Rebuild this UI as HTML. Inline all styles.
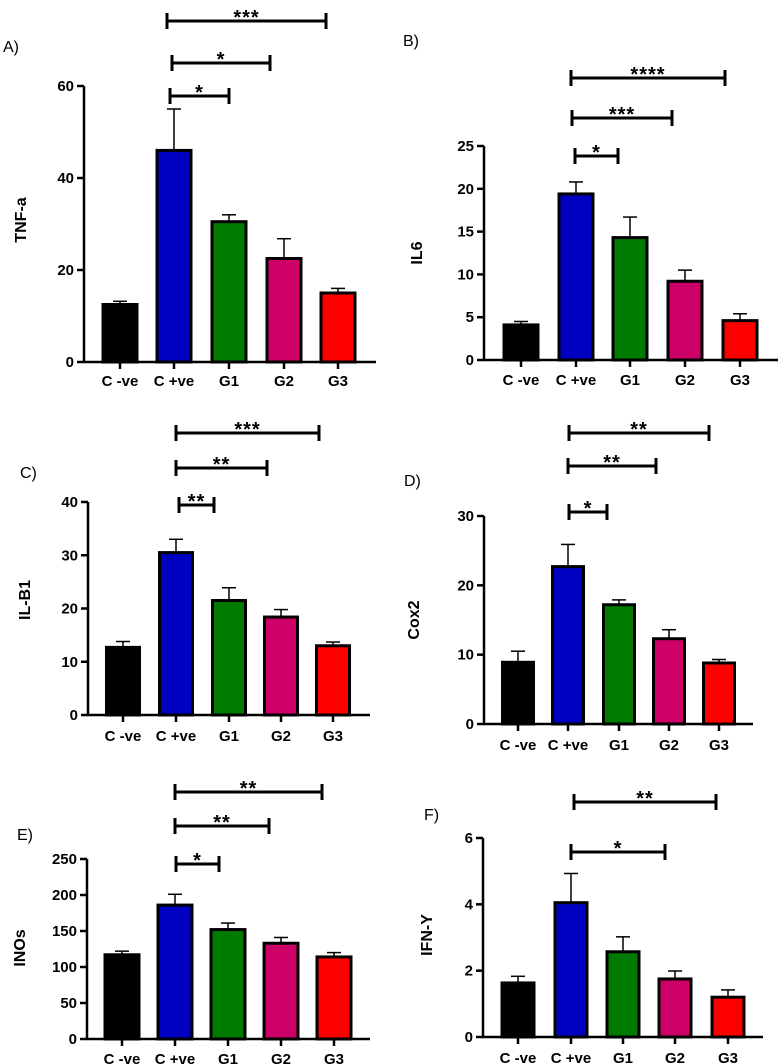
<!DOCTYPE html>
<html><head><meta charset="utf-8"><style>
body{margin:0;background:#fff;}
svg{display:block;font-family:"Liberation Sans",Arial,sans-serif;}
</style></head><body>
<svg id="fig" width="780" height="1064" viewBox="0 0 780 1064" xmlns="http://www.w3.org/2000/svg"></svg>
<script>
const categories = ["C -ve","C +ve","G1","G2","G3"];
const colors = ["#000000","#0000c0","#007a00","#cc0066","#ff0000"];
const tnfValues = [12.5,46,30.5,22.5,15];
const tnfErrors = [0.7,9,1.5,4.3,1];
const il6Values = [4.1,19.4,14.3,9.2,4.6];
const il6Errors = [0.4,1.4,2.4,1.3,0.8];
const ilb1Values = [12.7,30.5,21.5,18.4,13];
const ilb1Errors = [1.1,2.5,2.4,1.4,0.7];
const cox2Values = [8.9,22.7,17.2,12.3,8.8];
const cox2Errors = [1.6,3.2,0.7,1.3,0.5];
const inosValues = [117,186,152,133,114];
const inosErrors = [5,15,9,8,6];
const ifnValues = [1.63,4.05,2.57,1.75,1.2];
const ifnErrors = [0.2,0.88,0.45,0.24,0.22];
const tnfTicks = [0,20,40,60];
const il6Ticks = [0,5,10,15,20,25];
const ilb1Ticks = [0,10,20,30,40];
const cox2Ticks = [0,10,20,30];
const inosTicks = [0,50,100,150,200,250];
const ifnTicks = [0,2,4,6];
const tnfSig = [[1,2,"*"],[1,3,"*"],[1,4,"***"]];
const il6Sig = [[1,2,"*"],[1,3,"***"],[1,4,"****"]];
const ilb1Sig = [[1,2,"**"],[1,3,"**"],[1,4,"***"]];
const cox2Sig = [[1,2,"*"],[1,3,"**"],[1,4,"**"]];
const inosSig = [[1,2,"*"],[1,3,"**"],[1,4,"**"]];
const ifnSig = [[1,3,"*"],[1,4,"**"]];

const NS="http://www.w3.org/2000/svg";
const svg=document.getElementById('fig');
function mk(tag,attrs,parent,text){const e=document.createElementNS(NS,tag);for(const k in attrs)e.setAttribute(k,attrs[k]);if(text!==undefined)e.textContent=text;(parent||svg).appendChild(e);return e;}

const panels=[
 {id:"a",letter:"A)",lx:3,ly:52,title:"TNF-a",tx:22,ty:220,ax:84,ar:376,y0:362,yTop:86,max:60,ticks:tnfTicks,vals:tnfValues,errs:tnfErrors,cx:[120,174,229,284,338],bw:34,sig:tnfSig,sigY:[96,63,21],sigX:[[170,229],[172,270],[167,326]],lab:380},
 {id:"b",letter:"B)",lx:403,ly:46,title:"IL6",tx:418,ty:253,ax:484,ar:778,y0:360,yTop:146,max:25,ticks:il6Ticks,vals:il6Values,errs:il6Errors,cx:[521,576,630,685,740],bw:34,sig:il6Sig,sigY:[156,118,78],sigX:[[575,618],[572,672],[571,725]],lab:379},
 {id:"c",letter:"C)",lx:20,ly:478,title:"IL-B1",tx:26,ty:600,ax:88,ar:370,y0:715,yTop:502,max:40,ticks:ilb1Ticks,vals:ilb1Values,errs:ilb1Errors,cx:[123,176,229,281,333],bw:33,sig:ilb1Sig,sigY:[505,468,433],sigX:[[179,214],[176,267],[176,319]],lab:735},
 {id:"d",letter:"D)",lx:404,ly:486,title:"Cox2",tx:415,ty:620,ax:484,ar:753,y0:724,yTop:516,max:30,ticks:cox2Ticks,vals:cox2Values,errs:cox2Errors,cx:[518,568,619,669,719],bw:31,sig:cox2Sig,sigY:[512,466,433],sigX:[[569,607],[568,656],[569,709]],lab:744},
 {id:"e",letter:"E)",lx:17,ly:840,title:"INOs",tx:21,ty:948,ax:87,ar:370,y0:1039,yTop:859,max:250,ticks:inosTicks,vals:inosValues,errs:inosErrors,cx:[122,175,228,281,334],bw:34,sig:inosSig,sigY:[864,826,792],sigX:[[176,219],[175,269],[175,322]],lab:1058},
 {id:"f",letter:"F)",lx:424,ly:820,title:"IFN-Y",tx:428,ty:935,ax:483,ar:763,y0:1037,yTop:838,max:6,ticks:ifnTicks,vals:ifnValues,errs:ifnErrors,cx:[518,571,623,675,728],bw:32,sig:ifnSig,sigY:[852,802],sigX:[[571,665],[574,716]],lab:1057}
];

panels.forEach(p=>{
 const g=mk('g',{});
 
 
 const y=v=>p.y0-(v/p.max)*(p.y0-p.yTop);
 const pl=mk('text',{x:p.lx,y:p.ly,'font-size':16},g,p.letter);
 
 
 const yt=mk('text',{x:p.tx,y:p.ty,'font-size':16,'font-weight':'bold','text-anchor':'middle',transform:`rotate(-90 ${p.tx} ${p.ty})`,'dominant-baseline':'middle'},g,p.title);
 
 
 // bars
 p.vals.forEach((v,i)=>{
  const c=p.cx[i];
  const top=y(v), et=y(v+p.errs[i]);
  const el=mk('line',{x1:c,x2:c,y1:top,y2:et,stroke:'#000','stroke-width':1.5},g);
  
  
  const cap=mk('line',{x1:c-7,x2:c+7,y1:et,y2:et,stroke:'#000','stroke-width':1.5},g);
  
  
  const r=mk('rect',{x:c-p.bw/2,y:top,width:p.bw,height:p.y0-top,fill:colors[i],stroke:'#000','stroke-width':3},g);
  
  
  const tk=mk('line',{x1:c,x2:c,y1:p.y0,y2:p.y0+7,stroke:'#000','stroke-width':2.5},g);
  
  
  const xl=mk('text',{x:c,y:p.lab+6,'font-size':15,'font-weight':'bold','text-anchor':'middle'},g,categories[i]);
  
  
 });
 // axes
 const ya=mk('line',{x1:p.ax,x2:p.ax,y1:p.yTop,y2:p.y0+1,stroke:'#000','stroke-width':2.5},g);
 
 
 const xa=mk('line',{x1:p.ax-1,x2:p.ar,y1:p.y0,y2:p.y0,stroke:'#000','stroke-width':2.5},g);
 
 
 p.ticks.forEach(t=>{
  const ty=y(t);
  const tl=mk('line',{x1:p.ax-7,x2:p.ax,y1:ty,y2:ty,stroke:'#000','stroke-width':2.5},g);
  
  
  const tt=mk('text',{x:p.ax-10,y:ty+5,'font-size':15,'font-weight':'bold','text-anchor':'end'},g,String(t));
  
  
 });
 // significance brackets
 p.sig.forEach((s,k)=>{
  const by=p.sigY[k], x1=p.sigX[k][0], x2=p.sigX[k][1];
  const b=mk('path',{d:`M${x1} ${by-8}V${by+8}M${x1} ${by}H${x2}M${x2} ${by-8}V${by+8}`,stroke:'#000','stroke-width':3,fill:'none'},g);
  
  
  const st=mk('text',{x:(x1+x2)/2,y:by+3,'font-size':20,'font-weight':'bold','text-anchor':'middle','letter-spacing':'1'},g,s[2]);
  
  
 });
});
</script>
</body></html>
